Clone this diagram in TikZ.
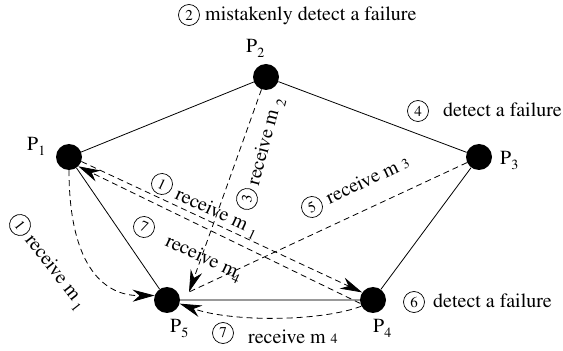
\documentclass[tikz,border=0pt]{standalone}
\usepackage[T1]{fontenc}
\usepackage{mathptmx}
\usetikzlibrary{arrows.meta}
\newcommand\sbs[1]{\raisebox{-5pt}{\fontsize{14}{14}\selectfont #1}}
\newcommand\sml[1]{{\fontsize{14}{14}\selectfont #1}}
\begin{document}
\begin{tikzpicture}[x=1pt,y=1pt,
  proc/.style={circle,fill=black,minimum size=26pt,inner sep=0pt},
  edge/.style={line width=0.8pt},
  msg/.style={line width=0.8pt,dash pattern=on 6pt off 4pt},
  tip/.style={-{Stealth[length=22pt,width=12pt,inset=7pt]}},
  cnum/.style={circle,draw,line width=0.7pt,minimum size=21pt,inner sep=0pt,font=\rmfamily\fontsize{15}{15}\selectfont},
  lbl/.style={inner sep=0pt,font=\rmfamily\fontsize{20}{24}\selectfont},
]
\useasboundingbox (0,0) rectangle (563,351);

% processes
\node[proc] (P1) at (69,194) {};
\node[proc] (P2) at (266,274) {};
\node[proc] (P3) at (479,194) {};
\node[proc] (P4) at (373,51) {};
\node[proc] (P5) at (167,51) {};
\coordinate (m2tip) at (189,59);

% process labels
\node[lbl,anchor=base west] (LP1) at (27,200) {P\sbs{1}};
\node[lbl,anchor=base west] (LP2) at (246,298) {P\sbs{2}};
\node[lbl,anchor=base west] (LP3) at (500,186) {P\sbs{3}};
\node[lbl,anchor=base west] (LP4) at (373,18) {P\sbs{4}};
\node[lbl,anchor=base west] (LP5) at (170,18) {P\sbs{5}};

% solid links
\draw[edge] (P1) -- (P2);
\draw[edge] (P2) -- (P3);
\draw[edge] (P3) -- (P4);
\draw[edge] (P1) -- (P5);
\draw[line width=1.3pt,gray!80] (P4) -- (P5);

% messages
\draw[msg,tip] (P1.-20) -- (P4.145);
\draw[msg,tip] (P4.195) -- (P1.-45);
\draw[msg,tip] (P1.south) .. controls (69,91) and (100,55) .. (P5.160);
\draw[msg,tip] (P2.-110) -- (m2tip);
\draw[msg] (P3.205) -- (m2tip);
\draw[msg,tip] (P4.208) .. controls (320,29) and (230,29) .. (P5.-16);

% horizontal annotations
\node[cnum] (c2) at (189,336) {2};
\node[lbl,anchor=base west] (t2) at (205,330) {mistakenly detect a failure};
\node[cnum] (c4) at (418,240) {4};
\node[lbl,anchor=base west] (t4) at (443,234) {detect a failure};
\node[cnum] (c6) at (414,49) {6};
\node[lbl,anchor=base west] (t6) at (433,43) {detect a failure};
\node[cnum] (c7b) at (223,18) {7};
\node[lbl,anchor=base west] (t7b) at (248,7) {receive m \sml{4}};

% rotated annotations
\begin{scope}[shift={(20,126)},rotate=-52]
  \node[cnum,transform shape] (c1a) at (0,0) {1};
  \node[lbl,transform shape,anchor=base west] (t1a) at (15,-6) {receive m\,\sbs{1}};
\end{scope}
\begin{scope}[shift={(162,167)},rotate=-25]
  \node[cnum,transform shape] (c1b) at (0,0) {1};
  \node[lbl,transform shape,anchor=base west] (t1b) at (17,-8) {receive m \sbs{1}};
\end{scope}
\begin{scope}[shift={(144,124)},rotate=-25]
  \node[cnum,transform shape] (c7a) at (0,0) {7};
  \node[lbl,transform shape,anchor=base west] (t7a) at (26,-8) {receive m\kern-2pt\sbs{4}};
\end{scope}
\begin{scope}[shift={(247,152)},rotate=75]
  \node[cnum,transform shape] (c3) at (0,0) {3};
  \node[lbl,transform shape,anchor=base west] (t3) at (15,-8) {receive m \sbs{2}};
\end{scope}
\begin{scope}[shift={(312,144)},rotate=25]
  \node[cnum,transform shape] (c5) at (0,0) {5};
  \node[lbl,transform shape,anchor=base west] (t5) at (17,-5) {receive m \sml{3}};
\end{scope}
\end{tikzpicture}
\end{document}
